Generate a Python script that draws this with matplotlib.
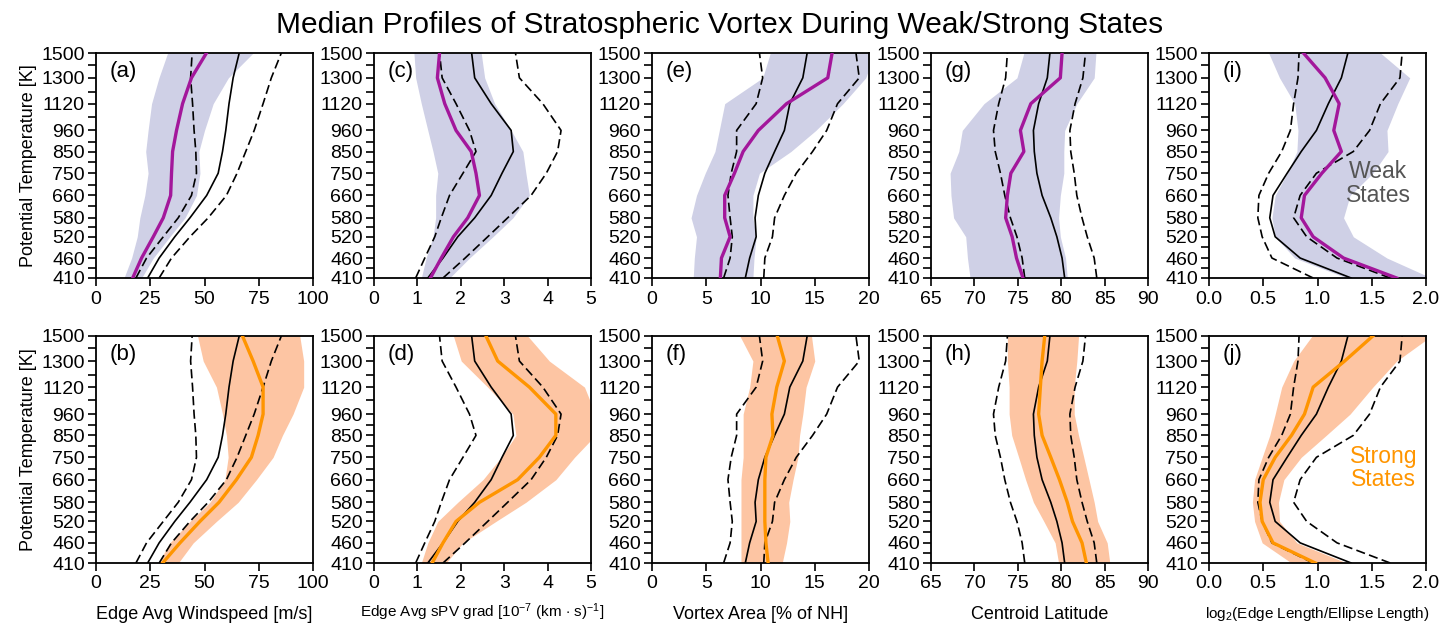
import matplotlib
matplotlib.use("Agg")
import matplotlib.pyplot as plt
from matplotlib.ticker import FixedLocator, NullFormatter

plt.rcParams['font.family'] = ['Liberation Sans', 'DejaVu Sans']
plt.rcParams['mathtext.fontset'] = 'custom'
plt.rcParams['mathtext.rm'] = 'Liberation Sans'
plt.rcParams['mathtext.it'] = 'Liberation Sans:italic'

levels = [410, 460, 520, 580, 660, 750, 850, 960, 1120, 1300, 1500]
minor_levels = [435, 490, 550, 620, 700, 800, 900, 1040, 1200, 1400]

# ---- Edge Avg Windspeed ----
wind_clim_med = [23.8, 29.1, 36.3, 43.3, 51.0, 56.3, 58.3, 59.8, 61.3, 63.2, 66.0]
wind_clim_lo = [18.4, 23.3, 31.0, 37.9, 44.0, 46.3, 46.0, 45.2, 44.5, 43.6, 44.3]
wind_clim_hi = [29.1, 34.8, 43.3, 51.7, 60.1, 65.0, 69.0, 72.9, 77.0, 80.8, 85.4]
wind_weak_med = [16.9, 21.0, 26.4, 31.0, 34.4, 34.8, 35.3, 37.1, 39.9, 44.0, 50.9]
wind_weak_lo = [12.9, 16.4, 19.0, 20.2, 22.5, 24.0, 22.9, 24.0, 25.6, 29.0, 33.0]
wind_weak_hi = [21.0, 26.4, 34.0, 41.0, 46.3, 47.9, 47.4, 50.0, 54.0, 61.0, 72.4]
wind_strong_med = [30.7, 38.7, 47.9, 56.7, 64.7, 71.6, 74.7, 77.0, 77.0, 72.4, 67.5]
wind_strong_lo = [28.7, 34.0, 43.3, 52.5, 59.4, 60.9, 60.1, 58.3, 55.5, 49.4, 46.8]
wind_strong_hi = [37.9, 44.8, 55.5, 65.5, 73.9, 81.6, 85.9, 90.8, 95.7, 95.7, 93.9]

# ---- Edge Avg sPV grad ----
spv_clim_med = [1.24, 1.59, 1.93, 2.32, 2.70, 2.95, 3.21, 3.16, 2.70, 2.32, 2.25]
spv_clim_lo = [0.96, 1.17, 1.40, 1.55, 1.74, 2.05, 2.35, 2.20, 1.89, 1.57, 1.51]
spv_clim_hi = [1.59, 2.10, 2.62, 3.08, 3.62, 3.97, 4.23, 4.31, 3.89, 3.35, 3.26]
spv_weak_med = [1.30, 1.55, 1.83, 2.16, 2.43, 2.35, 2.24, 1.89, 1.63, 1.46, 1.51]
spv_weak_lo = [1.09, 1.20, 1.36, 1.42, 1.42, 1.47, 1.36, 1.24, 1.09, 0.96, 0.92]
spv_weak_hi = [1.74, 2.20, 2.74, 3.20, 3.58, 3.50, 3.43, 3.16, 2.78, 2.55, 2.47]
spv_strong_med = [1.34, 1.59, 1.89, 2.43, 3.31, 3.81, 4.19, 4.19, 3.58, 2.85, 2.58]
spv_strong_lo = [1.09, 1.24, 1.47, 1.93, 2.51, 2.93, 3.27, 3.20, 2.62, 2.01, 1.83]
spv_strong_hi = [1.66, 2.05, 2.81, 3.50, 4.19, 4.62, 5.10, 5.10, 4.85, 4.04, 3.54]

# ---- Vortex Area ----
area_clim_med = [8.6, 9.0, 9.6, 9.5, 9.8, 10.4, 11.3, 12.2, 12.7, 13.9, 14.3]
area_clim_lo = [6.6, 7.2, 7.4, 7.2, 7.0, 7.3, 7.8, 7.8, 9.6, 10.2, 9.9]
area_clim_hi = [10.3, 10.4, 11.1, 11.3, 12.2, 13.3, 14.8, 16.1, 17.1, 19.1, 18.8]
area_weak_med = [6.3, 6.4, 7.2, 6.7, 6.7, 7.6, 8.4, 9.8, 12.4, 16.2, 16.6]
area_weak_lo = [3.8, 3.9, 4.1, 3.6, 4.1, 4.9, 5.8, 6.2, 6.7, 10.2, 10.9]
area_weak_hi = [9.3, 9.4, 9.6, 9.3, 9.3, 9.9, 12.8, 15.1, 17.6, 19.7, 20.5]
area_strong_med = [10.7, 10.5, 10.4, 10.4, 10.4, 10.5, 11.15, 11.05, 11.5, 12.2, 11.55]
area_strong_lo = [8.2, 8.2, 8.2, 8.2, 8.2, 8.4, 8.4, 8.4, 9.0, 9.3, 8.1]
area_strong_hi = [12.0, 12.4, 12.7, 12.6, 13.0, 13.45, 13.6, 13.9, 14.2, 15.0, 14.7]

# ---- Centroid Latitude ----
lat_clim_med = [80.4, 80.1, 79.5, 78.8, 77.8, 77.2, 76.9, 76.8, 77.4, 78.4, 78.7]
lat_clim_lo = [75.8, 75.5, 74.9, 74.15, 73.5, 73.0, 72.4, 72.2, 72.8, 73.6, 73.8]
lat_clim_hi = [84.1, 83.8, 83.0, 82.4, 81.8, 81.5, 81.1, 81.0, 81.6, 82.5, 82.8]
lat_weak_med = [75.6, 74.85, 74.35, 73.6, 73.8, 74.2, 75.7, 75.3, 76.5, 79.9, 80.1]
lat_weak_lo = [69.5, 69.2, 69.0, 67.6, 67.3, 67.2, 68.2, 68.6, 71.1, 74.9, 75.7]
lat_weak_hi = [80.7, 80.5, 79.9, 79.7, 79.9, 80.3, 80.3, 80.4, 81.8, 83.8, 84.0]
lat_strong_med = [82.9, 82.4, 81.3, 80.7, 79.8, 78.8, 77.8, 77.4, 77.6, 77.8, 78.1]
lat_strong_lo = [79.7, 79.3, 78.0, 76.8, 75.9, 75.1, 74.3, 74.0, 74.0, 73.8, 73.8]
lat_strong_hi = [85.6, 85.3, 84.2, 83.8, 83.2, 82.6, 82.0, 81.5, 81.5, 81.8, 82.0]

# ---- log2(Edge Length / Ellipse Length) ----
len_clim_med = [1.31, 0.84, 0.61, 0.56, 0.59, 0.72, 0.85, 0.99, 1.10, 1.22, 1.28]
len_clim_lo = [0.96, 0.58, 0.49, 0.45, 0.46, 0.55, 0.67, 0.75, 0.78, 0.82, 0.83]
len_clim_hi = [1.67, 1.18, 0.90, 0.78, 0.84, 0.99, 1.33, 1.48, 1.58, 1.76, 1.78]
len_weak_med = [1.73, 1.24, 0.96, 0.85, 0.88, 1.04, 1.22, 1.15, 1.20, 1.07, 0.87]
len_weak_lo = [1.27, 0.79, 0.61, 0.58, 0.61, 0.72, 0.81, 0.82, 0.79, 0.65, 0.55]
len_weak_hi = [2.05, 1.64, 1.33, 1.24, 1.30, 1.51, 1.65, 1.64, 1.74, 1.85, 1.58]
len_strong_med = [0.98, 0.59, 0.49, 0.47, 0.50, 0.61, 0.76, 0.88, 0.96, 1.25, 1.51]
len_strong_lo = [0.76, 0.49, 0.42, 0.40, 0.42, 0.49, 0.56, 0.61, 0.67, 0.78, 0.95]
len_strong_hi = [1.27, 0.81, 0.65, 0.64, 0.69, 0.85, 1.08, 1.30, 1.51, 1.73, 2.05]

panel_labels_top = ['(a)', '(c)', '(e)', '(g)', '(i)']
panel_labels_bot = ['(b)', '(d)', '(f)', '(h)', '(j)']
xlabels = ['Edge Avg Windspeed [m/s]',
           r'Edge Avg sPV grad [$10^{-7}$ (km $\cdot$ s)$^{-1}$]',
           'Vortex Area [% of NH]',
           'Centroid Latitude',
           r'log$_2$(Edge Length/Ellipse Length)']
xlabel_sizes = [13, 11, 13, 13, 11]
xlabel_base = [619, 617, 619, 619, 618]
xlims = [(0, 100), (0, 5), (0, 20), (65, 90), (0, 2)]
xticks = [[0, 25, 50, 75, 100], [0, 1, 2, 3, 4, 5], [0, 5, 10, 15, 20],
          [65, 70, 75, 80, 85, 90], [0.0, 0.5, 1.0, 1.5, 2.0]]
xtick_fmt = ['{:g}', '{:g}', '{:g}', '{:g}', '{:.1f}']

clim = [(wind_clim_med, wind_clim_lo, wind_clim_hi),
        (spv_clim_med, spv_clim_lo, spv_clim_hi),
        (area_clim_med, area_clim_lo, area_clim_hi),
        (lat_clim_med, lat_clim_lo, lat_clim_hi),
        (len_clim_med, len_clim_lo, len_clim_hi)]
weak = [(wind_weak_med, wind_weak_lo, wind_weak_hi),
        (spv_weak_med, spv_weak_lo, spv_weak_hi),
        (area_weak_med, area_weak_lo, area_weak_hi),
        (lat_weak_med, lat_weak_lo, lat_weak_hi),
        (len_weak_med, len_weak_lo, len_weak_hi)]
strong = [(wind_strong_med, wind_strong_lo, wind_strong_hi),
          (spv_strong_med, spv_strong_lo, spv_strong_hi),
          (area_strong_med, area_strong_lo, area_strong_hi),
          (lat_strong_med, lat_strong_lo, lat_strong_hi),
          (len_strong_med, len_strong_lo, len_strong_hi)]

weak_fill = '#cfd0e6'
weak_line = '#a3179b'
strong_fill = '#fdc5a3'
strong_line = '#ff9500'

W, H = 1440, 623
fig = plt.figure(figsize=(W / 100, H / 100), dpi=100)
col_left = [96, 374, 652, 931, 1209]
ax_w = 217
rows = [(53, 278), (336, 563)]

fig.text(0.5, 1 - 25 / H, 'Median Profiles of Stratospheric Vortex During Weak/Strong States',
         ha='center', va='center', fontsize=21.5)

for r, (top, bot) in enumerate(rows):
    for c in range(5):
        hpx = bot - top
        ax = fig.add_axes([col_left[c] / W, 1 - bot / H, ax_w / W, hpx / H])
        med, lo, hi = (weak if r == 0 else strong)[c]
        fc = weak_fill if r == 0 else strong_fill
        lc = weak_line if r == 0 else strong_line
        ax.fill_betweenx(levels, lo, hi, color=fc, lw=0, zorder=1)
        cm, cl, ch = clim[c]
        ax.plot(cm, levels, color='black', lw=1.2, zorder=3)
        ax.plot(cl, levels, color='black', lw=1.2, ls=(0, (5.5, 2.6)), zorder=3)
        ax.plot(ch, levels, color='black', lw=1.2, ls=(0, (5.5, 2.6)), zorder=3)
        ax.plot(med, levels, color=lc, lw=2.4, zorder=4)
        ax.set_yscale('log')
        ax.set_ylim(410, 1500)
        ax.set_xlim(*xlims[c])
        ax.yaxis.set_major_locator(FixedLocator(levels))
        ax.yaxis.set_minor_locator(FixedLocator(minor_levels))
        ax.yaxis.set_minor_formatter(NullFormatter())
        ax.set_yticklabels([str(v) for v in levels])
        ax.set_xticks(xticks[c])
        ax.set_xticklabels([xtick_fmt[c].format(v) for v in xticks[c]])
        ax.tick_params(which='both', direction='out', length=6, width=1.2, labelsize=14, pad=2)
        ax.tick_params(axis='x', pad=3)
        for s in ax.spines.values():
            s.set_linewidth(1.3)
        lab = (panel_labels_top if r == 0 else panel_labels_bot)[c]
        ax.text(0.065, 0.965, lab, transform=ax.transAxes, ha='left', va='top', fontsize=16)
        if c == 0:
            ax.set_ylabel('Potential Temperature [K]', fontsize=13, labelpad=3)
        if r == 1:
            ax.text(0.5, (bot - xlabel_base[c]) / hpx, xlabels[c], transform=ax.transAxes,
                    ha='center', va='baseline', fontsize=xlabel_sizes[c])
        if r == 0 and c == 4:
            ax.text(0.78, 0.42, 'Weak\nStates', transform=ax.transAxes, ha='center', va='center',
                    fontsize=16.5, color='#555555', linespacing=1.0, zorder=5)
        if r == 1 and c == 4:
            ax.text(0.805, 0.42, 'Strong\nStates', transform=ax.transAxes, ha='center', va='center',
                    fontsize=16.5, color=strong_line, linespacing=1.0, zorder=5)

fig.savefig('out.png', dpi=100)
